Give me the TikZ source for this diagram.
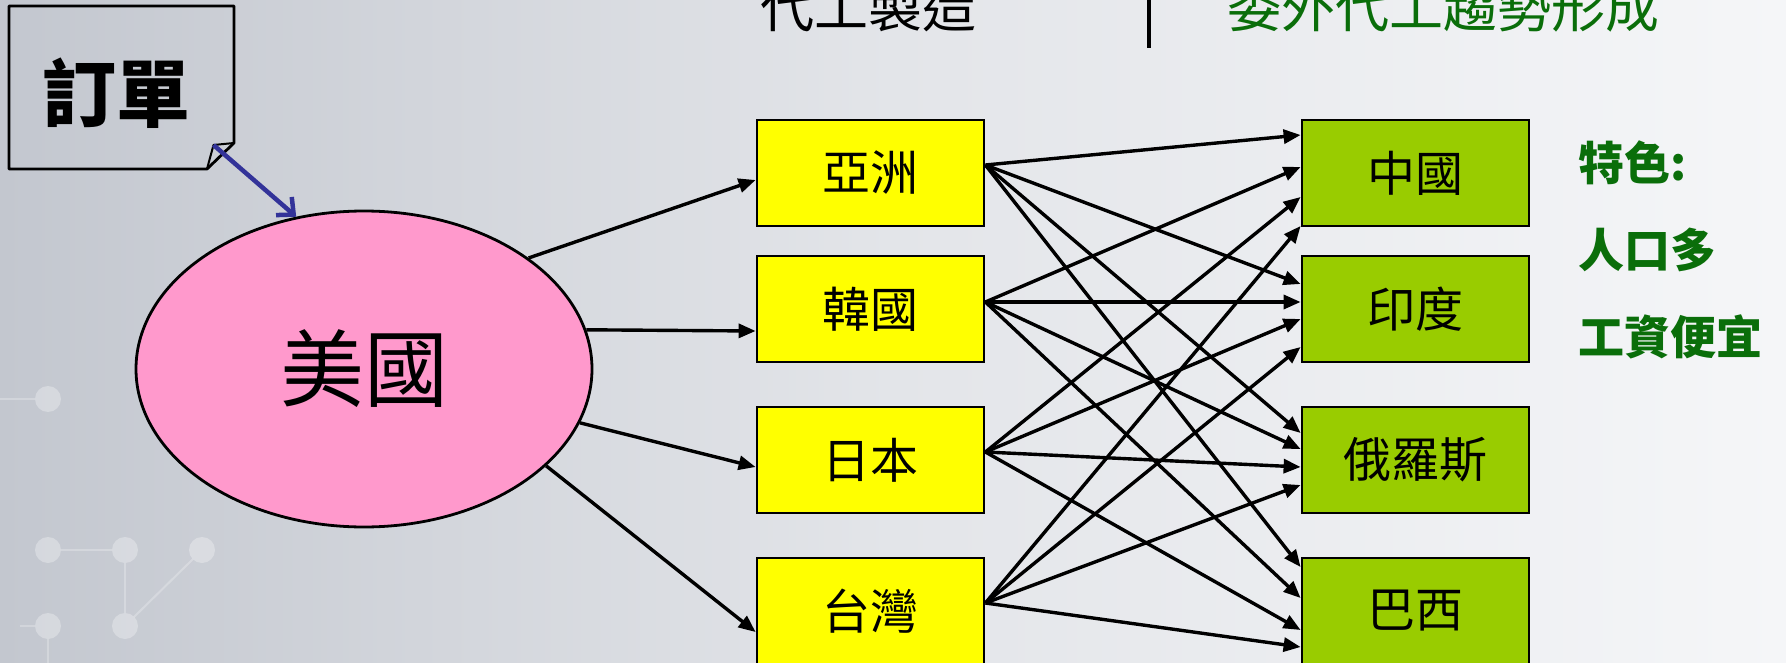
\documentclass[tikz,border=0pt]{standalone}
\usepackage{fontspec}
\newfontfamily\cjk{Noto Sans CJK TC}
\usetikzlibrary{arrows.meta,shapes.geometric,calc}
\definecolor{bgL}{HTML}{C3C7CF}
\definecolor{bgM}{HTML}{E3E5E9}
\definecolor{bgR}{HTML}{F5F6F8}
\definecolor{pinkfill}{HTML}{FF99CC}
\definecolor{yel}{HTML}{FFFF00}
\definecolor{grn}{HTML}{99CC00}
\definecolor{txtgreen}{HTML}{0A6E0A}
\definecolor{noteblue}{HTML}{333399}
\begin{document}
\begin{tikzpicture}[x=1pt,y=-1pt,
  srcbox/.style={draw=black,line width=2.8pt,fill=yel,minimum width=227pt,minimum height=106pt,inner sep=0pt,font=\cjk\fontsize{48}{48}\selectfont},
  dstbox/.style={srcbox,fill=grn},
  arr/.style={line width=3.4pt,-{Triangle[length=17pt,width=14pt]}},
  deco/.style={white,opacity=0.3},
  decoline/.style={white,opacity=0.25,line width=2pt},
  feat/.style={anchor=west,text=txtgreen,font=\cjk\bfseries\fontsize{46}{46}\selectfont,inner sep=0pt},
  title/.style={anchor=base,font=\cjk\fontsize{54}{54}\selectfont,inner sep=0pt},
]
\useasboundingbox (0,0) rectangle (1786,663);
\clip (0,0) rectangle (1786,663);
\shade[left color=bgL,right color=bgR,middle color=bgM] (0,0) rectangle (1786,663);

% background decoration
\foreach \p in {(48,399),(48,550),(125,550),(202,550),(48,626),(125,626)}
  \fill[deco] \p circle (13);
\draw[decoline] (0,399) -- (35,399);
\draw[decoline] (61,550) -- (112,550);
\draw[decoline] (125,563) -- (125,613);
\draw[decoline] (193,559) -- (134,617);
\draw[decoline] (48,639) -- (48,663);
\draw[decoline] (20,626) -- (35,626);

% title (cut off at top, as in the reference)
\node[title] (t1) at (868,28) {代工製造};
\node[title,text=txtgreen] (t2) at (1443,28) {委外代工趨勢形成};
\coordinate (bartop) at (1149,0);
\coordinate (barbot) at (1149,48);
\draw[line width=3.6pt] (bartop) -- (barbot);

% note
\draw[line width=2.8pt,line join=round] (9,6) -- (234,6) -- (234,143) -- (207,169) -- (9,169) -- cycle;
\draw[line width=2pt,line join=round] (234,143) -- (213.5,145) -- (207,169);
\node[font=\cjk\bfseries\fontsize{74}{74}\selectfont,inner sep=0pt] (order) at (116,93) {訂單};
\coordinate (fold) at (213.5,145);

% ellipse
\node[ellipse,draw,line width=2.8pt,fill=pinkfill,minimum width=456pt,minimum height=316pt,inner sep=0pt,
      font=\cjk\fontsize{84}{84}\selectfont] (usa) at (364,369) {美國};
\draw[noteblue,line width=4.5pt,-{Straight Barb[length=13pt,width=24pt]}] (fold) -- (usa.114);

% source boxes
\node[srcbox] (asia)   at (870.5,173) {亞洲};
\node[srcbox] (korea)  at (870.5,309) {韓國};
\node[srcbox] (japan)  at (870.5,460) {日本};
\node[srcbox] (taiwan) at (870.5,611) {台灣};

% destination boxes
\node[dstbox] (china)  at (1415.5,173) {中國};
\node[dstbox] (india)  at (1415.5,309) {印度};
\node[dstbox] (russia) at (1415.5,460) {俄羅斯};
\node[dstbox] (brazil) at (1415.5,611) {巴西};

% features
\node[feat] (f1) at (1578,163) {特色:};
\node[feat] (f2) at (1578,250) {人口多};
\node[feat] (f3) at (1578,337) {工資便宜};

% USA -> sources
\draw[arr] (usa.34)  -- ([yshift=-7pt]asia.west);
\draw[arr] (usa.10.5) -- ([yshift=-22pt]korea.west);
\draw[arr] (usa.-14) -- ([yshift=-7pt]japan.west);
\draw[arr] (usa.-28) -- ([yshift=-21pt]taiwan.west);

% sources -> destinations
\draw[arr] ([yshift=8pt]asia.east) -- ([yshift=38pt]china.west);
\draw[arr] ([yshift=8pt]asia.east) -- ([yshift=25pt]india.west);
\draw[arr] ([yshift=8pt]asia.east) -- ([yshift=27pt]russia.west);
\draw[arr] ([yshift=8pt]asia.east) -- ([yshift=44pt]brazil.west);

\draw[arr] ([yshift=7pt]korea.east) -- ([yshift=6pt]china.west);
\draw[arr] ([yshift=7pt]korea.east) -- ([yshift=7pt]india.west);
\draw[arr] ([yshift=7pt]korea.east) -- ([yshift=11pt]russia.west);
\draw[arr] ([yshift=7pt]korea.east) -- ([yshift=13pt]brazil.west);

\draw[arr] ([yshift=8pt]japan.east) -- ([yshift=-24pt]china.west);
\draw[arr] ([yshift=8pt]japan.east) -- ([yshift=-10pt]india.west);
\draw[arr] ([yshift=8pt]japan.east) -- ([yshift=-7pt]russia.west);
\draw[arr] ([yshift=8pt]japan.east) -- ([yshift=-19pt]brazil.west);

\draw[arr] ([yshift=8pt]taiwan.east) -- ([yshift=-53pt]china.west);
\draw[arr] ([yshift=8pt]taiwan.east) -- ([yshift=-38pt]india.west);
\draw[arr] ([yshift=8pt]taiwan.east) -- ([yshift=-25pt]russia.west);
\draw[arr] ([yshift=8pt]taiwan.east) -- ([yshift=-36pt]brazil.west);
\end{tikzpicture}
\end{document}
